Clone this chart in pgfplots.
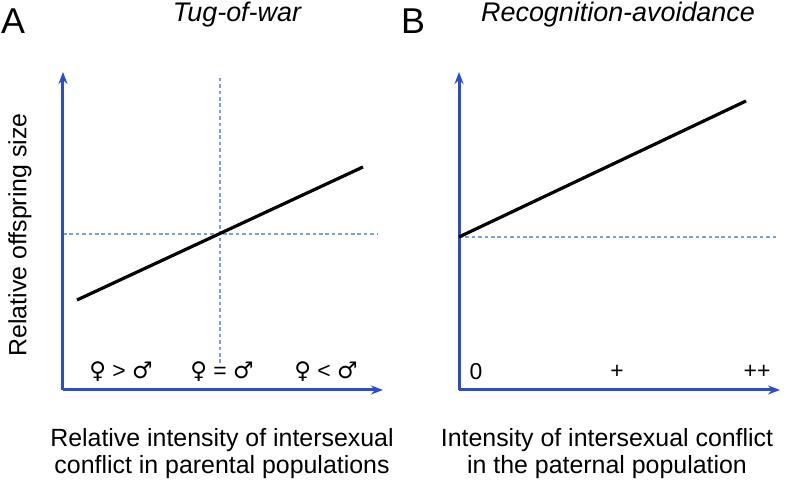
\documentclass[border=0pt]{standalone}
\usepackage{pgfplots}
\pgfplotsset{compat=1.18}
\usepackage{fontspec}
\setmainfont{Liberation Sans}
\newfontfamily\symfont{DejaVu Sans}
\usetikzlibrary{arrows.meta}
\definecolor{axblue}{RGB}{45,75,205}
\definecolor{dotblue}{RGB}{125,160,210}
\begin{document}
\begin{tikzpicture}[x=0.5bp,y=0.5bp]
\useasboundingbox (0,0) rectangle (793,488);
\pgfplotsset{panel/.style={
  scale only axis, axis lines=none,
  ticks=none, enlargelimits=false, clip=false, anchor=south west,
  ymin=98, ymax=416, height=159bp},
  dottedline/.style={dotblue, line width=0.7bp, dash pattern=on 1.8bp off 1.4bp},
  mainline/.style={black, line width=1.6bp},
  axline/.style={draw=axblue, line width=1.5bp, arrows={-Stealth[length=6bp,width=4.5bp]}}
}
\begin{axis}[panel, at={(63,98)}, width=160bp, xmin=63, xmax=383]
\addplot[dottedline] coordinates {(63,254) (378,254)};
\addplot[dottedline] coordinates {(220,125) (220,413)};
\addplot[axline] coordinates {(63,98) (383,98)};
\addplot[axline] coordinates {(63,98) (63,416)};
\addplot[mainline] coordinates {(77,188) (363,321)};
\node[font=\fontsize{11.5}{13}\selectfont] at (axis cs:121,116) {{\symfont ♀} > {\symfont ♂}};
\node[font=\fontsize{11.5}{13}\selectfont] at (axis cs:222,116) {{\symfont ♀} = {\symfont ♂}};
\node[font=\fontsize{11.5}{13}\selectfont] at (axis cs:326,116) {{\symfont ♀} < {\symfont ♂}};
\node[font=\fontsize{18}{20}\selectfont] at (axis cs:13,467) {A};
\node[font=\fontsize{13.5}{16}\selectfont\itshape] at (axis cs:237,473) {Tug-of-war};
\node[rotate=90, font=\fontsize{12.5}{14}\selectfont] at (axis cs:20,253) {Relative offspring size};
\node[align=center, font=\fontsize{12.5}{13.5}\selectfont] at (axis cs:222,34.5) {Relative intensity of intersexual\\conflict in parental populations};
\end{axis}
\begin{axis}[panel, at={(459,98)}, width=160.5bp, xmin=459, xmax=780]
\addplot[dottedline] coordinates {(459,251) (778,251)};
\addplot[axline] coordinates {(459,98) (780,98)};
\addplot[axline] coordinates {(459,98) (459,416)};
\addplot[mainline] coordinates {(459,251) (746,387)};
\node[font=\fontsize{11.5}{13}\selectfont] at (axis cs:476,116) {0};
\node[font=\fontsize{11.5}{13}\selectfont] at (axis cs:617,116) {+};
\node[font=\fontsize{11.5}{13}\selectfont] at (axis cs:757,116) {++};
\node[font=\fontsize{18}{20}\selectfont] at (axis cs:413,467) {B};
\node[font=\fontsize{13.5}{16}\selectfont\itshape] at (axis cs:618,473) {Recognition-avoidance};
\node[align=center, font=\fontsize{12.5}{13.5}\selectfont] at (axis cs:607,34.5) {Intensity of intersexual conflict\\in the paternal population};
\end{axis}
\end{tikzpicture}
\end{document}
